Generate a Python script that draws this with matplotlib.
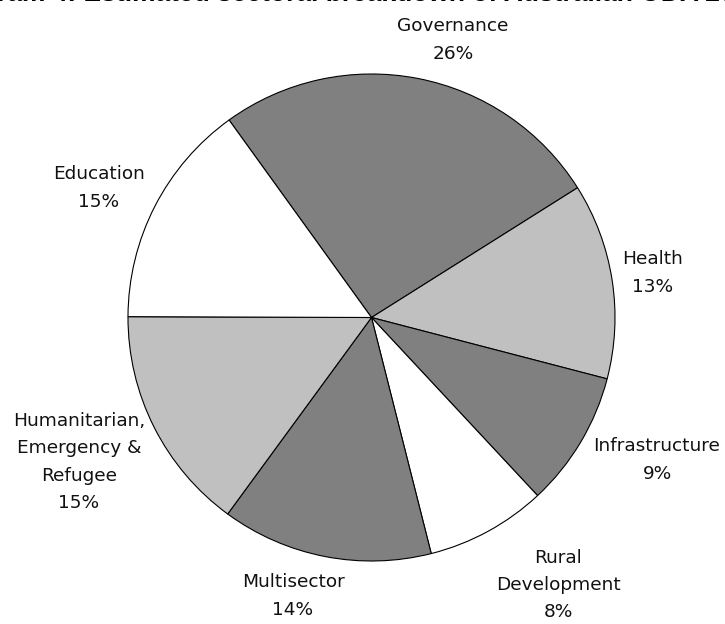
import matplotlib.pyplot as plt

sectors = ['Governance', 'Health', 'Infrastructure', 'Rural\nDevelopment',
           'Multisector', 'Humanitarian,\nEmergency &\nRefugee', 'Education']
shares = [26, 13, 9, 8, 14, 15, 15]
colors = ['#808080', '#c0c0c0', '#808080', '#ffffff',
          '#808080', '#c0c0c0', '#ffffff']

# label block centres, in pixels from top-left
label_px = [(453, 40), (653, 273), (657, 460), (558, 585),
            (293, 596), (79, 462), (99, 188)]

W, H = 725, 624
cx, cy, R = 371.5, 317.5, 243.5

fig = plt.figure(figsize=(W / 100, H / 100), dpi=100)
ax = fig.add_axes([0, 0, 1, 1])
ax.pie(shares, colors=colors, startangle=125.8, counterclock=False,
       wedgeprops=dict(edgecolor='black', linewidth=0.8))
ax.set_xlim(-cx / R, (W - cx) / R)
ax.set_ylim(-(H - cy) / R, cy / R)
ax.set_aspect('equal')
ax.axis('off')

for name, pct, (px, py) in zip(sectors, shares, label_px):
    ax.text((px - cx) / R, (cy - py) / R, f'{name}\n{pct}%',
            ha='center', va='center', fontsize=13.3, linespacing=1.67,
            family='DejaVu Sans', color='#111111')

# title runs off the top of the canvas
fig.text(-60 / W, 1 - 0.5 / H, 'Diagram 4: Estimated sectoral breakdown of Australian ODA 2006-07',
         ha='left', va='baseline', fontsize=19, fontweight='bold',
         family='Liberation Sans')

fig.savefig('out.png', dpi=100)
